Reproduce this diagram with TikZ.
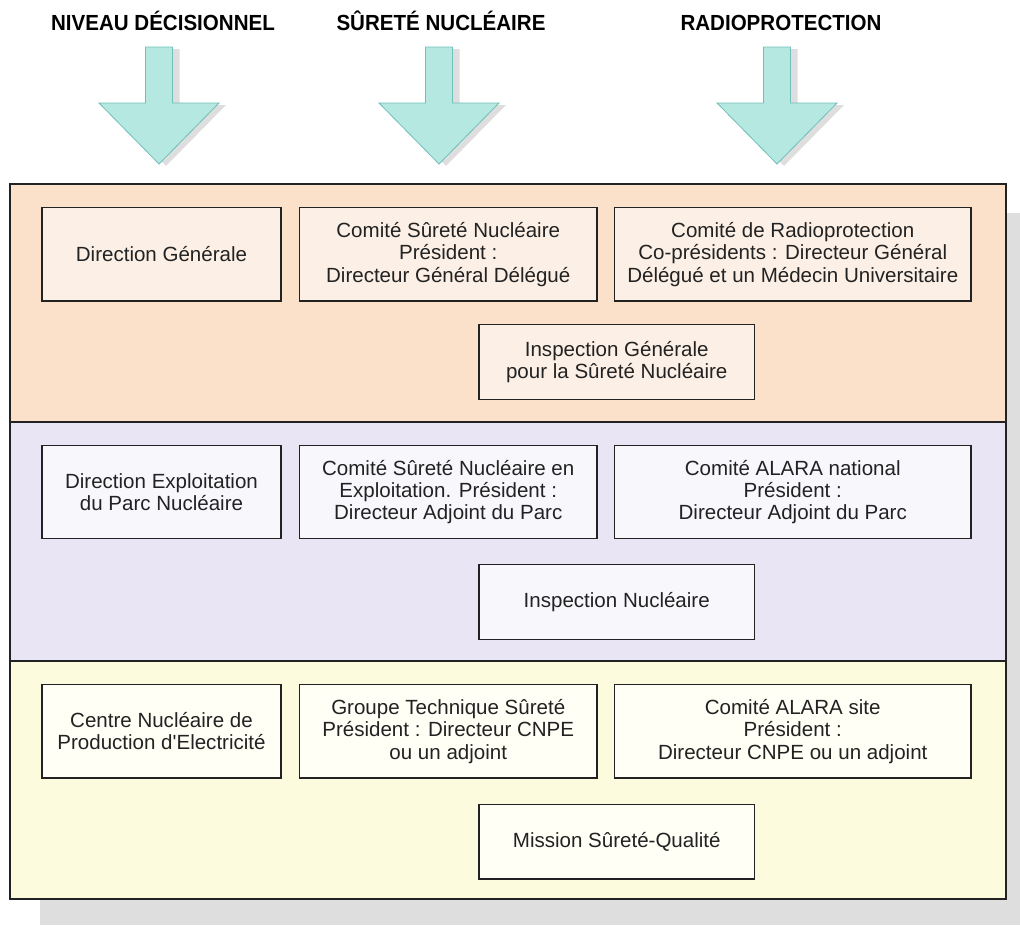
\documentclass[tikz,border=0pt]{standalone}
\usepackage{fontspec}
\setmainfont{Liberation Sans}
\newfontfamily\headfont[FakeStretch=0.94]{Liberation Sans}

\definecolor{bandA}{RGB}{251,224,202}
\definecolor{bandB}{RGB}{233,229,245}
\definecolor{bandC}{RGB}{253,251,222}
\definecolor{boxA}{RGB}{252,240,230}
\definecolor{boxB}{RGB}{248,247,252}
\definecolor{boxC}{RGB}{255,255,246}
\definecolor{arrowfill}{RGB}{182,232,226}
\definecolor{arrowline}{RGB}{110,192,184}
\definecolor{dropgray}{RGB}{222,222,222}
\definecolor{ink}{RGB}{34,34,34}

\begin{document}
\begin{tikzpicture}[x=0.75pt,y=-0.75pt,
  unit/.style={draw=ink, line width=1pt, align=center, inner sep=0pt,
    text=ink, font=\fontsize{15.4}{16.8}\selectfont, minimum height=70.1pt},
  colA/.style={minimum width=179.25pt},
  colB/.style={minimum width=223.1pt},
  colC/.style={minimum width=267.4pt},
  colD/.style={minimum width=206.6pt},
  low/.style={minimum height=56pt},
  heading/.style={anchor=base, inner sep=0pt, text=black,
    font=\headfont\bfseries\fontsize{16.4}{19}\selectfont},
  downarrow/.style={fill=arrowfill, draw=arrowline, line width=0.6pt},
]
\useasboundingbox (0,0) rectangle (1020,925);

% drop shadow of the frame
\fill[dropgray] (40,213) rectangle (1020,925);

% three coloured bands
\fill[bandA] (10,184) rectangle (1006,422);
\fill[bandB] (10,422) rectangle (1006,661);
\fill[bandC] (10,661) rectangle (1006,899);
\draw[ink, line width=1.1pt] (10,184) rectangle (1006,899);
\draw[ink, line width=1.1pt] (10,422) -- (1006,422);
\draw[ink, line width=1.1pt] (10,661) -- (1006,661);

% column headings
\node[heading] (hA) at (163,30.7) {NIVEAU DÉCISIONNEL};
\node[heading] (hB) at (441,30.7) {SÛRETÉ NUCLÉAIRE};
\node[heading] (hC) at (781,30.7) {RADIOPROTECTION};

% block arrows under the headings
\foreach \cx in {159,439,777}{
  \fill[dropgray] ({\cx-13.5+7},49) -- ({\cx+13.5+7},49) -- ({\cx+13.5+7},105)
    -- ({\cx+60+7},105) -- ({\cx+7},166) -- ({\cx-60+7},105)
    -- ({\cx-13.5+7},105) -- cycle;
  \draw[downarrow] ({\cx-13.5},47) -- ({\cx+13.5},47) -- ({\cx+13.5},103)
    -- ({\cx+60},103) -- (\cx,164) -- ({\cx-60},103)
    -- ({\cx-13.5},103) -- cycle;
}

% decision level
\node[unit, colA, fill=boxA] (dg) at (161.5,254.25) {Direction Générale};
\node[unit, colB, fill=boxA] (csn) at (448.25,254.25)
  {Comité Sûreté Nucléaire\\Président :\\Directeur Général Délégué};
\node[unit, colC, fill=boxA] (crp) at (792.75,254.25)
  {Comité de Radioprotection\\Co-présidents : Directeur Général\\Délégué et un Médecin Universitaire};
\node[unit, colD, low, fill=boxA] (igsn) at (616.75,362)
  {Inspection Générale\\pour la Sûreté Nucléaire};

% fleet level
\node[unit, colA, fill=boxB] (dep) at (161.5,492)
  {Direction Exploitation\\du Parc Nucléaire};
\node[unit, colB, fill=boxB] (csne) at (448.25,492)
  {Comité Sûreté Nucléaire en\\Exploitation. Président :\\Directeur Adjoint du Parc};
\node[unit, colC, fill=boxB] (alnat) at (792.75,492)
  {Comité ALARA national\\Président :\\Directeur Adjoint du Parc};
\node[unit, colD, low, fill=boxB] (insp) at (616.75,602)
  {Inspection Nucléaire};

% site level
\node[unit, colA, fill=boxC] (cnpe) at (161.5,731.25)
  {Centre Nucléaire de\\Production d\textquotesingle Electricité};
\node[unit, colB, fill=boxC] (gts) at (448.25,731.25)
  {Groupe Technique Sûreté\\Président : Directeur CNPE\\ou un adjoint};
\node[unit, colC, fill=boxC] (alsite) at (792.75,731.25)
  {Comité ALARA site\\Président :\\Directeur CNPE ou un adjoint};
\node[unit, colD, low, fill=boxC] (msq) at (616.75,841.5)
  {Mission Sûreté-Qualité};
\end{tikzpicture}
\end{document}
